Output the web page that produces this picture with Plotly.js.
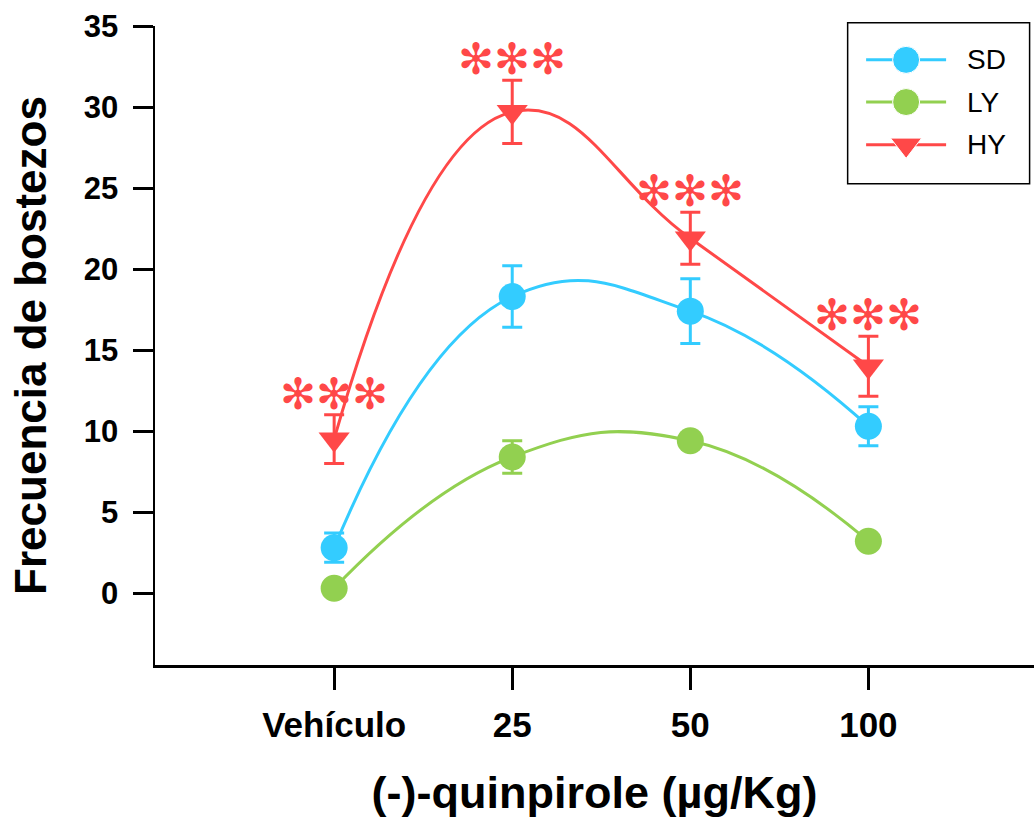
<!DOCTYPE html>
<html><head><meta charset="utf-8">
<script src="https://cdn.plot.ly/plotly-3.0.1.min.js"></script>
<style>html,body{margin:0;padding:0;background:#fff}#chart{width:1034px;height:818px}</style>
</head><body><div id="chart"></div>
<script>
const categories = ["Vehículo", "25", "50", "100"];
const seriesNames = ["SD", "LY", "HY"];
const sdMean = [2.8, 18.3, 17.4, 10.3];
const sdErr  = [0.9, 1.9, 2.0, 1.2];
const lyMean = [0.3, 8.4, 9.4, 3.2];
const lyErr  = [0.1, 1.0, 0.3, 0.2];
const hyMean = [9.5, 29.7, 21.9, 14.0];
const hyErr  = [1.5, 1.95, 1.6, 1.85];
const sigMarks = ["✻✻✻", "✻✻✻", "✻✻✻", "✻✻✻"];
const yTicks = [0, 5, 10, 15, 20, 25, 30, 35];

const colors = {SD: "#33CCFF", LY: "#92D050", HY: "#FF4848"};
const symbols = {SD: "circle", LY: "circle", HY: "triangle-down"};
const means = {SD: sdMean, LY: lyMean, HY: hyMean};
const errs = {SD: sdErr, LY: lyErr, HY: hyErr};

const traces = [];
seriesNames.forEach(n => {
  traces.push({
    type: "scatter", mode: "lines+markers", x: categories, y: means[n], name: n,
    line: {color: colors[n], width: 3, shape: "spline", smoothing: 1.3},
    marker: {color: colors[n], size: 27, symbol: symbols[n], opacity: 1},
    error_y: {type: "data", array: errs[n], visible: true, color: colors[n], thickness: 3, width: 10},
    showlegend: false, cliponaxis: false
  });
});

// custom legend drawn on an overlay axis with [0,1] range
const legY = [0.947, 0.881, 0.814];
seriesNames.forEach((n, i) => {
  traces.push({
    type: "scatter", mode: "lines+markers", xaxis: "x2", yaxis: "y2",
    x: [0.809, 0.8545, 0.900], y: [legY[i], legY[i], legY[i]],
    line: {color: colors[n], width: 3},
    marker: {color: colors[n], size: [0, 27, 0], symbol: symbols[n], opacity: 1},
    showlegend: false, hoverinfo: "skip", cliponaxis: false
  });
});

const annotations = categories.map((c, i) => ({
  x: i, y: hyMean[i] + hyErr[i], xref: "x", yref: "y", text: sigMarks[i],
  showarrow: false, yanchor: "middle", yshift: 25,
  font: {family: "Noto Sans CJK SC", size: 43, color: colors.HY}
}));
seriesNames.forEach((n, i) => {
  annotations.push({
    x: 0.9215, y: legY[i], xref: "x2", yref: "y2", text: n, showarrow: false,
    xanchor: "left", yanchor: "middle",
    font: {family: "Liberation Sans, Arial", size: 28, color: "#000"}
  });
});

const layout = {
  width: 1034, height: 818,
  margin: {l: 155, r: 0, t: 26, b: 153},
  paper_bgcolor: "#fff", plot_bgcolor: "#fff",
  showlegend: false,
  font: {family: "Liberation Sans, Arial", color: "#000"},
  xaxis: {
    type: "category", range: [-1.006, 3.93], showgrid: false, zeroline: false,
    showline: true, linecolor: "#000", linewidth: 2.5,
    ticks: "outside", ticklen: 22, tickwidth: 3, tickcolor: "#000",
    ticklabelstandoff: 5,
    tickfont: {family: "Liberation Sans, Arial", size: 35, weight: "bold"},
    title: {text: "(-)-quinpirole (µg/Kg)", standoff: 42,
      font: {family: "Liberation Sans, Arial", size: 45, weight: "bold"}}
  },
  yaxis: {
    range: [-4.44, 35], tickvals: yTicks, showgrid: false, zeroline: false,
    showline: true, linecolor: "#000", linewidth: 2.5,
    ticks: "outside", ticklen: 20, tickwidth: 3, tickcolor: "#000",
    ticklabelstandoff: 8,
    tickfont: {family: "Liberation Sans, Arial", size: 31, weight: "bold"},
    title: {text: "Frecuencia de bostezos", standoff: 24,
      font: {family: "Liberation Sans, Arial", size: 44, weight: "bold"}}
  },
  xaxis2: {overlaying: "x", range: [0, 1], visible: false, fixedrange: true},
  yaxis2: {overlaying: "y", range: [0, 1], visible: false, fixedrange: true},
  shapes: [{type: "rect", xref: "paper", yref: "paper", x0: 0.788, x1: 0.995, y0: 0.753, y1: 1.005,
    line: {color: "#000", width: 1.5}, fillcolor: "rgba(0,0,0,0)"}],
  annotations: annotations
};

Plotly.newPlot("chart", traces, layout, {displayModeBar: false, staticPlot: true});
</script></body></html>
